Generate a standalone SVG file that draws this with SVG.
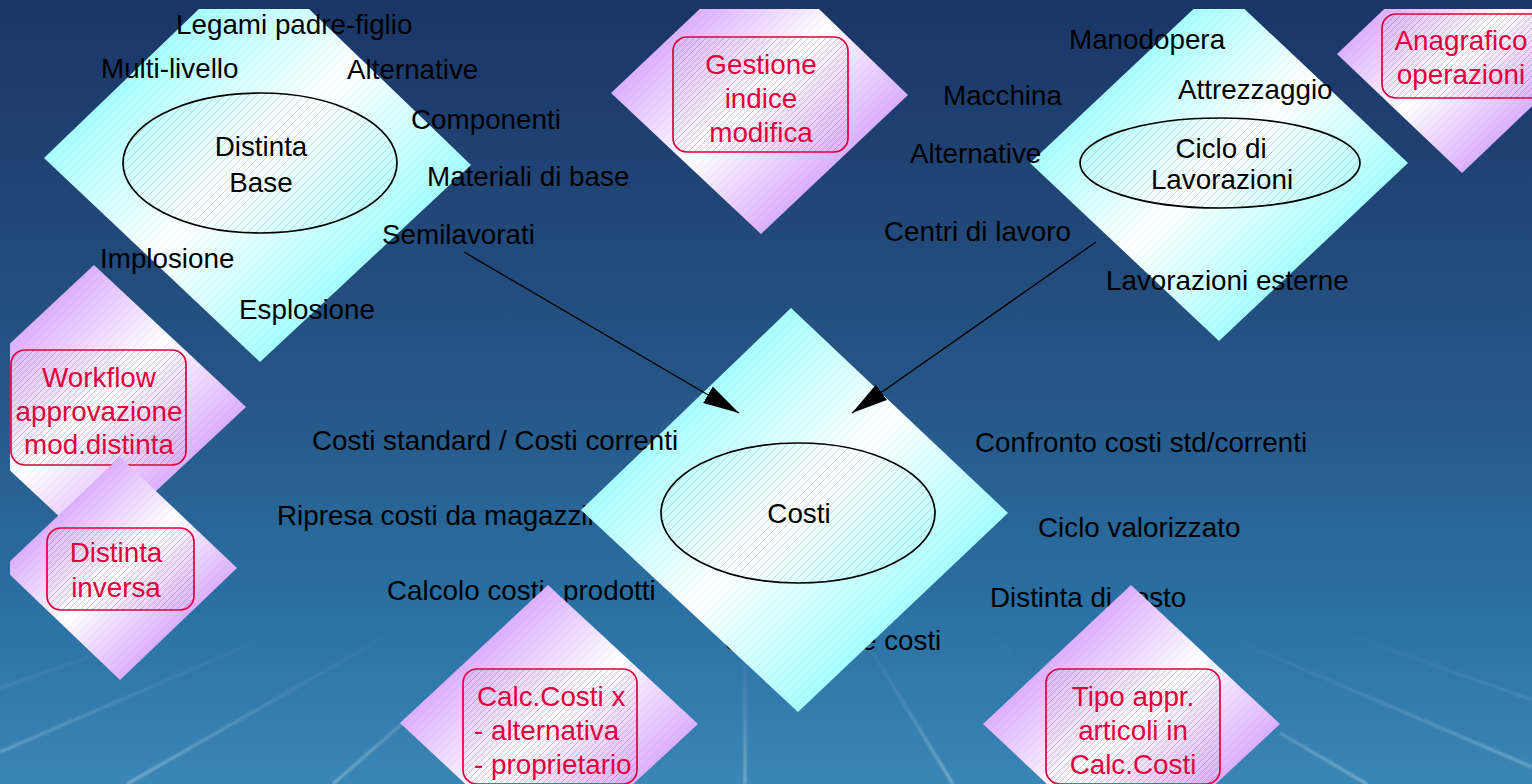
<svg xmlns="http://www.w3.org/2000/svg" width="1532" height="784" viewBox="0 0 1532 784">
<style>
text{font-family:"Liberation Sans",Arial,sans-serif;font-size:27.8px;fill:#000}
.c{text-anchor:middle}
.r{fill:#e2003c}
.dc{fill:url(#gc)}
.dp{fill:url(#gp)}
.h{fill:url(#hLight)}
.el{fill:url(#hDark);stroke:#000;stroke-width:1.7}
.rb{fill:url(#hDark2);stroke:#e2003c;stroke-width:1.7}
.ray{stroke:url(#gray);stroke-width:2.6;fill:none;filter:url(#soft)}
.cn{stroke:#000;stroke-width:1.3;fill:none;marker-end:url(#arrow)}
</style>
<defs>
<linearGradient id="bg" x1="0" y1="0" x2="0" y2="1">
<stop offset="0" stop-color="#1a3566"/><stop offset="0.5" stop-color="#265686"/><stop offset="0.78" stop-color="#2a71a4"/><stop offset="1" stop-color="#3a86b6"/>
</linearGradient>
<linearGradient id="gc" x1="0" y1="0" x2="1" y2="1">
<stop offset="0.25" stop-color="#a8ffff"/><stop offset="0.5" stop-color="#fff"/><stop offset="0.75" stop-color="#a8ffff"/>
</linearGradient>
<linearGradient id="gp" x1="0" y1="0" x2="1" y2="1">
<stop offset="0.25" stop-color="#dcb0ff"/><stop offset="0.5" stop-color="#fff"/><stop offset="0.75" stop-color="#dcb0ff"/>
</linearGradient>
<linearGradient id="gray" gradientUnits="userSpaceOnUse" x1="0" y1="630" x2="0" y2="784">
<stop offset="0" stop-color="#fff" stop-opacity="0"/><stop offset="0.4" stop-color="#fff" stop-opacity="0.1"/><stop offset="1" stop-color="#fff" stop-opacity="0.36"/>
</linearGradient>
<filter id="soft" filterUnits="userSpaceOnUse" x="0" y="600" width="1532" height="184"><feGaussianBlur stdDeviation="0.9"/></filter>
<pattern id="hLight" patternUnits="userSpaceOnUse" width="8" height="8"><path d="M-1,9 L9,-1" stroke="#777" stroke-opacity="0.07" stroke-width="1"/></pattern>
<pattern id="hDark" patternUnits="userSpaceOnUse" width="8" height="8"><path d="M-1,9 L9,-1" stroke="#777" stroke-opacity="0.24" stroke-width="1"/></pattern>
<pattern id="hDark2" patternUnits="userSpaceOnUse" width="6" height="6"><path d="M-1,7 L7,-1" stroke="#555" stroke-opacity="0.3" stroke-width="1"/></pattern>
<marker id="arrow" markerUnits="userSpaceOnUse" markerWidth="36" markerHeight="20" viewBox="0 0 36 20" refX="36" refY="10" orient="auto"><path d="M0,0.5 L36,10 L0,19.5 Z" fill="#000"/></marker>
<clipPath id="page"><rect x="10" y="9" width="1522" height="775"/></clipPath>
</defs>
<rect width="1532" height="784" fill="url(#bg)"/>
<g id="rays">
<path class="ray" d="M745,640 L745,784"/>
<path class="ray" d="M865,640 L953,784"/>
<path class="ray" d="M333,784 L420,708"/>
<path class="ray" d="M127,784 L400,628"/>
<path class="ray" d="M0,752 L260,640"/>
<path class="ray" d="M0,688 L110,650"/>
<path class="ray" d="M1280,733 L1367,784"/>
<path class="ray" d="M1235,640 L1532,767"/>
<path class="ray" d="M1350,635 L1532,700"/>
<path class="ray" d="M985,632 L1012,652"/>
</g>
<g clip-path="url(#page)">
<g id="n-distinta-base">
<polygon class="dc" points="44,158 254,-44 471,165 260,362"/>
<polygon class="h" points="44,158 254,-44 471,165 260,362"/>
<ellipse class="el" cx="260" cy="163" rx="137" ry="70"/>
<text class="c" x="261" y="156">Distinta</text>
<text class="c" x="261" y="192">Base</text>
<text x="176" y="34">Legami padre-figlio</text>
<text x="101" y="78">Multi-livello</text>
<text x="347" y="79">Alternative</text>
<text x="411" y="129">Componenti</text>
<text x="427" y="186">Materiali di base</text>
<text x="382" y="244">Semilavorati</text>
<text x="100" y="268">Implosione</text>
<text x="239" y="319">Esplosione</text>
</g>
<g id="n-gestione">
<polygon class="dp" points="611,93 760,-48 908,95 761,234"/>
<polygon class="h" points="611,93 760,-48 908,95 761,234"/>
<rect class="rb" x="673" y="37" width="175" height="115" rx="14"/>
<text class="c r" x="761" y="74">Gestione</text>
<text class="c r" x="761" y="108">indice</text>
<text class="c r" x="761" y="142">modifica</text>
</g>
<g id="n-ciclo">
<polygon class="dc" points="1030,163 1219,-15 1408,163 1219,341"/>
<polygon class="h" points="1030,163 1219,-15 1408,163 1219,341"/>
<ellipse class="el" cx="1220" cy="163" rx="140" ry="45"/>
<text class="c" x="1221" y="158">Ciclo di</text>
<text class="c" x="1222" y="189">Lavorazioni</text>
<text x="1069" y="49">Manodopera</text>
<text x="1178" y="99">Attrezzaggio</text>
<text x="943" y="105">Macchina</text>
<text x="910" y="163">Alternative</text>
<text x="884" y="241">Centri di lavoro</text>
<text x="1106" y="290">Lavorazioni esterne</text>
</g>
<g id="n-anagrafico">
<polygon class="dp" points="1337,54 1462,-65 1587,54 1462,173"/>
<polygon class="h" points="1337,54 1462,-65 1587,54 1462,173"/>
<rect class="rb" x="1382" y="14" width="170" height="84" rx="14"/>
<text class="c r" x="1461" y="50">Anagrafico</text>
<text class="c r" x="1461" y="84">operazioni</text>
</g>
<g id="n-workflow">
<polygon class="dp" points="-58,407 94,265 246,407 94,549"/>
<polygon class="h" points="-58,407 94,265 246,407 94,549"/>
<rect class="rb" x="11" y="350" width="175" height="115" rx="14"/>
<text class="c r" x="99" y="387">Workflow</text>
<text class="c r" x="99" y="421">approvazione</text>
<text class="c r" x="99" y="454">mod.distinta</text>
</g>
<g id="n-inversa">
<polygon class="dp" points="3,568 120,457 237,568 120,680"/>
<polygon class="h" points="3,568 120,457 237,568 120,680"/>
<rect class="rb" x="47" y="528" width="147" height="82" rx="14"/>
<text class="c r" x="116" y="562">Distinta</text>
<text class="c r" x="116" y="597">inversa</text>
</g>
<g id="n-costi">
<text x="277" y="525">Ripresa costi da magazzino</text>
<text x="387" y="600">Calcolo costi <tspan x="563">prodotti</tspan></text>
<text x="725" y="650">Simulazione costi</text>
<polygon class="dc" points="581,510 791,308 1008,513 798,712"/>
<polygon class="h" points="581,510 791,308 1008,513 798,712"/>
<ellipse class="el" cx="798" cy="513" rx="137" ry="70"/>
<text class="c" x="799" y="523">Costi</text>
<text x="312" y="450">Costi standard / Costi correnti</text>
<text x="975" y="452">Confronto costi std/correnti</text>
<text x="1038" y="537">Ciclo valorizzato</text>
<text x="990" y="607">Distinta di costo</text>
</g>
<g id="n-calc">
<polygon class="dp" points="400,723 548,585 698,724 549,862"/>
<polygon class="h" points="400,723 548,585 698,724 549,862"/>
<rect class="rb" x="463" y="669" width="174" height="115" rx="14"/>
<text class="r" x="477" y="706">Calc.Costi x</text>
<text class="r" x="474" y="740">- alternativa</text>
<text class="r" x="474" y="774">- proprietario</text>
</g>
<g id="n-tipo">
<polygon class="dp" points="983,724 1131,585 1280,724 1131,863"/>
<polygon class="h" points="983,724 1131,585 1280,724 1131,863"/>
<rect class="rb" x="1046" y="669" width="174" height="115" rx="14"/>
<text class="c r" x="1133" y="706">Tipo appr.</text>
<text class="c r" x="1133" y="740">articoli in</text>
<text class="c r" x="1133" y="774">Calc.Costi</text>
</g>
<g id="connectors">
<line class="cn" x1="464" y1="252" x2="739" y2="413"/>
<line class="cn" x1="1096" y1="242" x2="852" y2="413"/>
</g>
</g>
</svg>
